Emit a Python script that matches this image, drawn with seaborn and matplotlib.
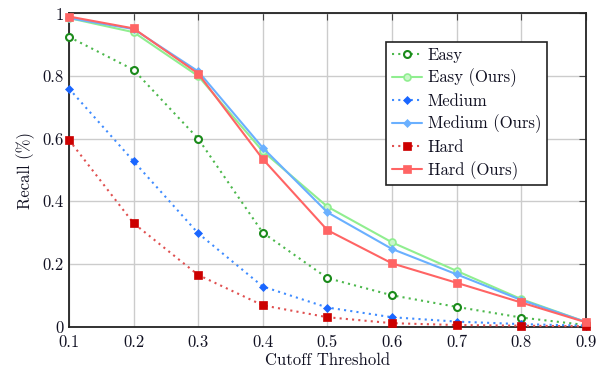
import numpy as np
import pandas as pd
import matplotlib
matplotlib.use("Agg")
import matplotlib.pyplot as plt
import seaborn as sns

thresholds = [0.1, 0.2, 0.3, 0.4, 0.5, 0.6, 0.7, 0.8, 0.9]
easy = [0.925, 0.82, 0.60, 0.30, 0.155, 0.10, 0.063, 0.029, 0.005]
easy_ours = [0.985, 0.94, 0.80, 0.56, 0.383, 0.269, 0.178, 0.088, 0.015]
medium = [0.76, 0.528, 0.298, 0.128, 0.061, 0.030, 0.016, 0.008, 0.003]
medium_ours = [0.985, 0.95, 0.815, 0.571, 0.365, 0.248, 0.167, 0.085, 0.015]
hard = [0.596, 0.33, 0.165, 0.068, 0.030, 0.011, 0.005, 0.003, 0.001]
hard_ours = [0.99, 0.952, 0.808, 0.535, 0.308, 0.202, 0.14, 0.077, 0.014]

series_names = ["Easy", "Easy (Ours)", "Medium", "Medium (Ours)", "Hard", "Hard (Ours)"]
series_values = [easy, easy_ours, medium, medium_ours, hard, hard_ours]

x_ticks = [0.1, 0.2, 0.3, 0.4, 0.5, 0.6, 0.7, 0.8, 0.9]
x_tick_labels = ["0.1", "0.2", "0.3", "0.4", "0.5", "0.6", "0.7", "0.8", "0.9"]
y_ticks = [0, 0.2, 0.4, 0.6, 0.8, 1.0]
y_tick_labels = ["0", "0.2", "0.4", "0.6", "0.8", "1"]

rows = []
for name, vals in zip(series_names, series_values):
    for t, v in zip(thresholds, vals):
        rows.append({"Cutoff Threshold": t, "Recall": v, "Series": name})
df = pd.DataFrame(rows)

sns.set_style("white")
plt.rcParams["font.family"] = ["cmr10", "DejaVu Serif"]
plt.rcParams["axes.formatter.use_mathtext"] = True
plt.rcParams["mathtext.fontset"] = "cm"

styles = {
    "Easy": dict(color="#4cb84c", linestyle=(0, (1, 2)), marker="o", mfc="white", mec="#1a8a1a", ms=5, mew=1.5),
    "Easy (Ours)": dict(color="#90ee90", linestyle="-", marker="o", mfc="#c8f7c8", mec="#90ee90", ms=5, mew=1.2),
    "Medium": dict(color="#3f8cff", linestyle=(0, (1, 2)), marker="D", mfc="#1a66ff", mec="#1a66ff", ms=4.2, mew=0.5),
    "Medium (Ours)": dict(color="#6ab0ff", linestyle="-", marker="D", mfc="#6ab0ff", mec="#6ab0ff", ms=4.2, mew=0.5),
    "Hard": dict(color="#e05050", linestyle=(0, (1, 2)), marker="s", mfc="#cc0000", mec="#cc0000", ms=6, mew=0.5),
    "Hard (Ours)": dict(color="#ff6464", linestyle="-", marker="s", mfc="#ff6464", mec="#ff6464", ms=6, mew=0.5),
}

fig = plt.figure(figsize=(6.03, 3.72), dpi=100)
ax = fig.add_axes([0.1144, 0.122, 0.857, 0.842])

for name in series_names:
    st = styles[name]
    sub = df[df["Series"] == name]
    sns.lineplot(data=sub, x="Cutoff Threshold", y="Recall", ax=ax, label=name,
                 color=st["color"], linestyle=st["linestyle"], linewidth=1.5,
                 marker=st["marker"], markerfacecolor=st["mfc"], markeredgecolor=st["mec"],
                 markersize=st["ms"], markeredgewidth=st["mew"], zorder=3, clip_on=False)

ax.set_xlim(0.1, 0.9)
ax.set_ylim(0, 1)
ax.set_xticks(x_ticks)
ax.set_xticklabels(x_tick_labels)
ax.set_yticks(y_ticks)
ax.set_yticklabels(y_tick_labels)
ax.grid(True, color="#cccccc", linewidth=1.0)
ax.set_axisbelow(True)
ax.tick_params(direction="in", length=5, width=0.8, color="#444444", top=True, right=True,
               labelsize=12, labelcolor="#111122")
ax.tick_params(axis="x", pad=6)
ax.tick_params(axis="y", pad=4)
for s in ax.spines.values():
    s.set_color("#222222")
    s.set_linewidth(1.3)
ax.set_xlabel("Cutoff Threshold", fontsize=12, labelpad=2, color="#111122")
ax.set_ylabel("Recall (%)", fontsize=12, labelpad=5, color="#111122")

leg = ax.legend(loc="upper right", bbox_to_anchor=(0.925, 0.91), fontsize=12, frameon=True,
                fancybox=False, edgecolor="#222222", handlelength=1.8, handletextpad=0.35,
                labelspacing=0.36, borderpad=0.35, borderaxespad=0)
for t in leg.get_texts():
    t.set_color("#111122")
leg.get_frame().set_linewidth(1.2)
leg.get_frame().set_alpha(1)

fig.savefig("out.png", dpi=100)
